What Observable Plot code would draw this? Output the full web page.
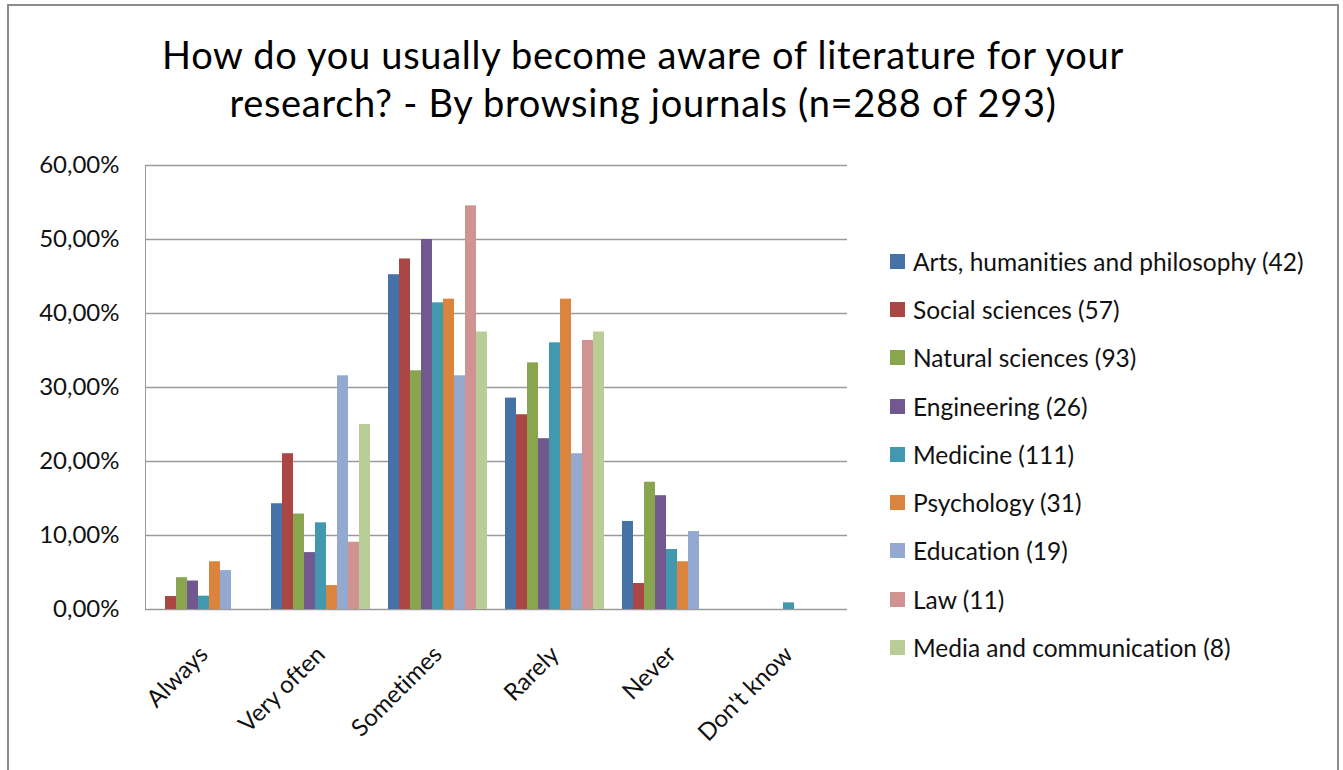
<!DOCTYPE html>
<html><head><meta charset="utf-8">
<script src="https://cdn.jsdelivr.net/npm/d3@7"></script>
<script src="https://cdn.jsdelivr.net/npm/@observablehq/plot@0.6"></script>
<style>
html,body{margin:0;padding:0;background:#fff;width:1343px;height:770px;overflow:hidden;font-family:Lato,sans-serif;font-variant-ligatures:none;}
#frame{position:absolute;left:7px;top:4px;width:1328px;height:800px;border:2px solid #8c8c8c;}
#title{position:absolute;left:0;top:30px;width:1286px;text-align:center;font-size:38px;letter-spacing:0.7px;line-height:48px;color:#000;}
#chart{position:absolute;left:0;top:140px;}
#chart svg text{fill:#111;font-variant-ligatures:none;}
#legend{position:absolute;left:0;top:0;}
.item{position:absolute;left:890px;height:30px;display:flex;align-items:center;font-size:24.5px;color:#111;white-space:nowrap;}
.sw{width:15px;height:15px;margin-right:8px;}
</style></head>
<body>
<div id="frame"></div>
<div id="title">How do you usually become aware of literature for your<br>research? - By browsing journals (n=288 of 293)</div>
<div id="chart"></div>
<div id="legend"></div>
<script>
const categories = ["Always", "Very often", "Sometimes", "Rarely", "Never", "Don't know"];
const seriesNames = [
  "Arts, humanities and philosophy (42)",
  "Social sciences (57)",
  "Natural sciences (93)",
  "Engineering (26)",
  "Medicine (111)",
  "Psychology (31)",
  "Education (19)",
  "Law (11)",
  "Media and communication (8)"
];
const seriesColors = ["#4572A7", "#AA4643", "#89A54E", "#71588F", "#4198AF", "#DB843D", "#93A9CF", "#D19392", "#B9CD96"];
// values in percent, one per category
const arts        = [0,     14.29, 45.24, 28.57, 11.90, 0];
const social      = [1.75,  21.05, 47.37, 26.32, 3.51,  0];
const natural     = [4.30,  12.90, 32.26, 33.33, 17.20, 0];
const engineering = [3.85,  7.69,  50.00, 23.08, 15.38, 0];
const medicine    = [1.80,  11.71, 41.44, 36.04, 8.11,  0.90];
const psychology  = [6.45,  3.23,  41.94, 41.94, 6.45,  0];
const education   = [5.26,  31.58, 31.58, 21.05, 10.53, 0];
const law         = [0,     9.09,  54.55, 36.36, 0,     0];
const media       = [0,     25.00, 37.50, 37.50, 0,     0];
const yTicks = [0, 10, 20, 30, 40, 50, 60];

const allValues = [arts, social, natural, engineering, medicine, psychology, education, law, media];
const data = [];
seriesNames.forEach((s, i) => categories.forEach((c, j) => data.push({series: s, cat: c, value: allValues[i][j]})));

const fmt = d => d.toFixed(2).replace(".", ",") + "%";

const chart = Plot.plot({
  width: 860,
  height: 630,
  marginLeft: 142,
  marginRight: 11,
  marginTop: 25,
  marginBottom: 161,
  style: {fontSize: "24px", fontFamily: "Lato, sans-serif", color: "#999", background: "transparent", overflow: "visible"},
  fx: {domain: categories, padding: 0, axis: "bottom", label: null, tickRotate: -45, tickSize: 0, tickPadding: 41},
  x: {domain: seriesNames, paddingInner: 0, paddingOuter: 0.75, axis: null},
  y: {domain: [0, 60], ticks: yTicks, tickFormat: fmt, tickSize: 0, tickPadding: 26, label: null, line: true},
  color: {domain: seriesNames, range: seriesColors},
  facet: {data: data, x: "cat"},
  marks: [
    Plot.ruleY(yTicks, {stroke: "#9a9a9a", strokeWidth: 1.5}),
    Plot.barY(data, {x: "series", y: "value", fill: "series", inset: 0})
  ]
});
document.getElementById("chart").appendChild(chart);

const legend = document.getElementById("legend");
const rowY = [262, 310, 358, 407, 455, 503, 551, 600, 648];
seriesNames.forEach((s, i) => {
  const d = document.createElement("div");
  d.className = "item";
  d.style.top = (rowY[i] - 16) + "px";
  d.innerHTML = `<div class="sw" style="background:${seriesColors[i]}"></div><span>${s}</span>`;
  legend.appendChild(d);
});
</script>
</body></html>
